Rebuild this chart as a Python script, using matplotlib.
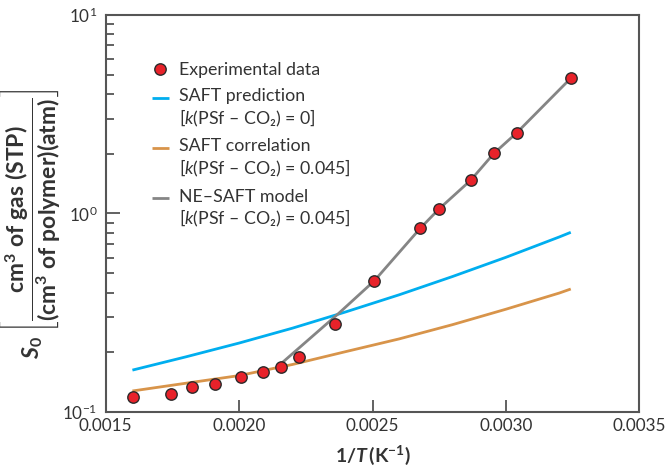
import numpy as np
import matplotlib
matplotlib.use('Agg')
import matplotlib.pyplot as plt
from matplotlib.legend_handler import HandlerLine2D
from matplotlib.ticker import NullFormatter, LogLocator, FixedLocator

FONT = 'Lato'
plt.rcParams['font.family'] = [FONT, 'DejaVu Sans']
plt.rcParams['mathtext.fontset'] = 'custom'
plt.rcParams['mathtext.rm'] = FONT
plt.rcParams['mathtext.it'] = FONT + ':italic'
plt.rcParams['mathtext.bf'] = FONT + ':bold'
plt.rcParams['mathtext.bfit'] = FONT + ':italic:bold'

# ---- data ----
exp_x = [0.001603, 0.001743, 0.001823, 0.001909, 0.002006, 0.002088, 0.002156,
         0.002226, 0.002359, 0.002507, 0.002678, 0.002748, 0.002868, 0.002954,
         0.003041, 0.003243]
exp_y = [0.119, 0.123, 0.134, 0.139, 0.150, 0.160, 0.169, 0.189, 0.278, 0.459,
         0.843, 1.053, 1.469, 2.01, 2.55, 4.79]

pred_x = [0.0016, 0.0018, 0.0020, 0.0022, 0.0024, 0.0026, 0.0028, 0.0030, 0.0032, 0.003243]
pred_y = [0.163, 0.190, 0.223, 0.265, 0.320, 0.390, 0.482, 0.602, 0.762, 0.804]

corr_x = [0.0016, 0.0018, 0.0020, 0.0022, 0.0024, 0.0026, 0.0028, 0.0030, 0.0032, 0.003243]
corr_y = [0.128, 0.140, 0.153, 0.174, 0.202, 0.234, 0.276, 0.330, 0.398, 0.417]

ne_x = [0.00216, 0.002376, 0.002507, 0.002678, 0.002748, 0.002868, 0.002954, 0.003041, 0.003243]
ne_y = [0.177, 0.317, 0.459, 0.84, 1.05, 1.47, 2.0, 2.55, 4.79]

x_ticks = [0.0015, 0.0020, 0.0025, 0.0030, 0.0035]
x_tick_labels = ['0.0015', '0.0020', '0.0025', '0.0030', '0.0035']

lab_exp = 'Experimental data'
lab_pred = 'SAFT prediction\n[$k$(PSf – CO₂) = 0]'
lab_corr = 'SAFT correlation\n[$k$(PSf – CO₂) = 0.045]'
lab_ne = 'NE–SAFT model\n[$k$(PSf – CO₂) = 0.045]'

BLUE = '#00AEEF'
ORANGE = '#D8944A'
GRAY = '#858585'
RED = '#E8222A'
AX_COL = '#555555'
TXT = '#333333'


class TopHandler(HandlerLine2D):
    def __init__(self, shift=0.6, **kw):
        super().__init__(**kw)
        self.shift = shift

    def create_artists(self, legend, orig_handle, xdescent, ydescent, width,
                       height, fontsize, trans):
        arts = super().create_artists(legend, orig_handle, xdescent, ydescent,
                                      width, height, fontsize, trans)
        for a in arts:
            a.set_ydata(np.asarray(a.get_ydata(), dtype=float) + self.shift * fontsize)
        return arts


fig = plt.figure(figsize=(6.65, 4.69), dpi=100)
ax = fig.add_axes([0.159, 0.1209, 0.8024, 0.8478])

h_pred, = ax.plot(pred_x, pred_y, color=BLUE, lw=2.0, label=lab_pred, solid_capstyle='butt')
h_corr, = ax.plot(corr_x, corr_y, color=ORANGE, lw=2.0, label=lab_corr, solid_capstyle='butt')
h_ne, = ax.plot(ne_x, ne_y, color=GRAY, lw=2.0, label=lab_ne, solid_capstyle='butt')
h_exp, = ax.plot(exp_x, exp_y, 'o', ms=8.2, mfc=RED, mec='#2a2a2a', mew=1.0,
                 zorder=5, label=lab_exp)

ax.set_yscale('log')
ax.set_ylim(0.1, 10)
ax.set_xlim(0.0015, 0.0035)
ax.xaxis.set_major_locator(FixedLocator(x_ticks))
ax.set_xticklabels(x_tick_labels)
ax.yaxis.set_major_locator(LogLocator(base=10))
ax.yaxis.set_minor_locator(LogLocator(base=10, subs=np.arange(2, 10)))
ax.yaxis.set_minor_formatter(NullFormatter())

for s in ax.spines.values():
    s.set_color(AX_COL)
    s.set_linewidth(1.5)

ax.tick_params(axis='x', which='major', direction='in', length=9, width=1.3,
               color=AX_COL, labelsize=12.3, pad=4, labelcolor=TXT)
ax.tick_params(axis='y', which='major', direction='in', length=10, width=1.3,
               color=AX_COL, labelsize=12.3, pad=6, labelcolor=TXT)
ax.tick_params(axis='y', which='minor', direction='in', length=6, width=1.3,
               color=AX_COL)

ax.set_xlabel(r'$\mathbf{1/}\mathbfit{T}\,\mathbf{(K}^{\mathbf{-1}}\mathbf{)}$',
              fontsize=14, color=TXT, labelpad=7)
ax.set_ylabel(r'$\mathbfit{S}_{\mathbf{0}}\;\left[\dfrac{\mathbf{cm}^{\mathbf{3}}\mathbf{\ of\ gas\ (STP)}}'
              r'{\mathbf{(cm}^{\mathbf{3}}\mathbf{\ of\ polymer)(atm)}}\right]$',
              fontsize=16.5, color=TXT)
ax.yaxis.set_label_coords(-0.08, 0.475)

leg = ax.legend(handles=[h_exp, h_pred, h_corr, h_ne],
                loc='upper left', bbox_to_anchor=(0.07, 0.9025),
                frameon=False, fontsize=12.8, handlelength=0.95,
                handletextpad=0.55, labelspacing=0.55, borderpad=0,
                handler_map={h_pred: TopHandler(0.6), h_corr: TopHandler(0.6),
                             h_ne: TopHandler(0.6)})
for t in leg.get_texts():
    t.set_color(TXT)

fig.savefig('out.png', dpi=100)
